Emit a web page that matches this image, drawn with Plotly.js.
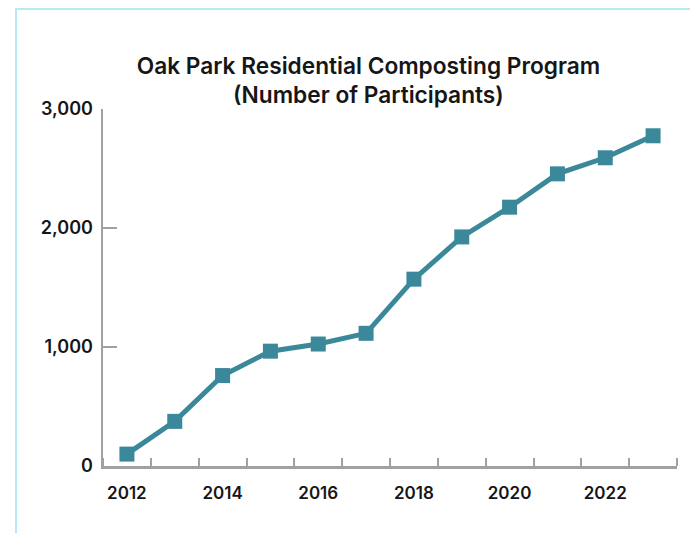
<!DOCTYPE html>
<html>
<head>
<meta charset="utf-8">
<script src="https://cdn.plot.ly/plotly-3.0.1.min.js"></script>
<style>
  html, body { margin: 0; padding: 0; background: #ffffff; overflow: hidden; }
  #wrap { position: relative; width: 690px; height: 533px; }
  #frame { position: absolute; left: 15px; top: 8px; width: 720px; height: 600px;
           border-left: 2px solid #b7e9f4; border-top: 2px solid #b7e9f4; box-sizing: border-box; z-index: 2; pointer-events: none; }
  #chart { position: absolute; left: 0; top: 0; width: 690px; height: 533px; }
</style>
</head>
<body>
<div id="wrap">
  <div id="chart"></div>
  <div id="frame"></div>
</div>
<script>
const years = [2012, 2013, 2014, 2015, 2016, 2017, 2018, 2019, 2020, 2021, 2022, 2023];
const participants = [100, 375, 760, 965, 1025, 1115, 1570, 1925, 2175, 2455, 2590, 2775];
const xTickYears = [2012, 2014, 2016, 2018, 2020, 2022];
const xTickLabels = ["2012", "2014", "2016", "2018", "2020", "2022"];
const yTickValues = [0, 1000, 2000, 3000];
const yTickLabels = ["0", "1,000", "2,000", "3,000"];

const FONT = "Inter, 'Noto Sans', sans-serif";
const AXIS = "#a1a1a5";

const trace = {
  x: years,
  y: participants,
  type: "scatter",
  mode: "lines+markers",
  line: { color: "#3b889b", width: 5 },
  marker: { color: "#3b889b", size: 15, symbol: "square", line: { width: 0 } },
  hoverinfo: "skip"
};

const layout = {
  width: 690,
  height: 533,
  paper_bgcolor: "rgba(0,0,0,0)",
  plot_bgcolor: "rgba(0,0,0,0)",
  margin: { l: 103, r: 13, t: 109, b: 67 },
  showlegend: false,
  title: {
    text: "Oak Park Residential Composting Program<br>(Number of Participants)",
    font: { family: FONT, size: 22.7, color: "#161616", weight: 600 },
    x: 0.534, xref: "container", xanchor: "center",
    y: 0.862, yref: "container", yanchor: "top"
  },
  xaxis: {
    range: [2011.5, 2023.5],
    showgrid: false, zeroline: false,
    showline: true, linecolor: AXIS, linewidth: 2.5,
    tickmode: "array", tickvals: xTickYears, ticktext: xTickLabels,
    ticks: "outside", ticklen: 10, tickcolor: "rgba(0,0,0,0)",
    tickfont: { family: FONT, size: 17, color: "#161616", weight: 600 },
    minor: { tickmode: "linear", tick0: 2011.5, dtick: 1, ticks: "inside", ticklen: 8, tickwidth: 2, tickcolor: AXIS, showgrid: false },
    fixedrange: true
  },
  yaxis: {
    range: [0, 3000],
    showgrid: false, zeroline: false,
    showline: true, linecolor: AXIS, linewidth: 2.5,
    tickmode: "array", tickvals: yTickValues, ticktext: yTickLabels,
    ticks: "inside", ticklen: 14, tickwidth: 2.5, tickcolor: AXIS,
    ticklabelstandoff: 4,
    tickfont: { family: FONT, size: 18, color: "#161616", weight: 600 },
    fixedrange: true
  }
};

Plotly.newPlot("chart", [trace], layout, { displayModeBar: false, staticPlot: true });
</script>
</body>
</html>
